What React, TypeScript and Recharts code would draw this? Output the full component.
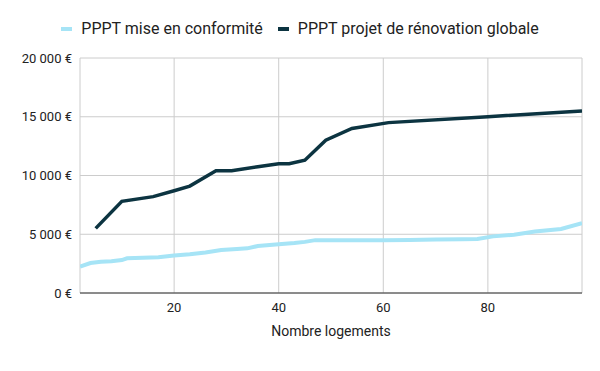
import React from 'react';
import { LineChart, Line, XAxis, YAxis, CartesianGrid, Legend } from 'recharts';

const conformiteX = [2, 4, 6, 8, 10, 11, 14, 17, 20, 23, 26, 29, 32, 34, 36, 40, 43, 45, 47, 50, 55, 60, 65, 70, 75, 78, 81, 85, 89, 94, 98];
const conformiteY = [2250, 2550, 2650, 2700, 2800, 2950, 3000, 3050, 3200, 3300, 3450, 3650, 3750, 3800, 4000, 4150, 4250, 4350, 4500, 4500, 4480, 4480, 4520, 4550, 4580, 4600, 4820, 4960, 5240, 5450, 5950];

const renovationX = [5, 10, 16, 20, 23, 28, 31, 36, 40, 42, 45, 49, 54, 61, 80, 98];
const renovationY = [5500, 7800, 8200, 8700, 9100, 10400, 10400, 10750, 11000, 11000, 11300, 13000, 14000, 14500, 15000, 15500];

const yTicks = [0, 5000, 10000, 15000, 20000];
const xTicks = [20, 40, 60, 80];

const seriesNames = ['PPPT mise en conformité', 'PPPT projet de rénovation globale'];
const seriesColors = ['#a6e4f6', '#0c3441'];

const conformiteData = conformiteX.map((x, i) => ({ x, y: conformiteY[i] }));
const renovationData = renovationX.map((x, i) => ({ x, y: renovationY[i] }));

const formatEuro = (v: number) => `${v.toLocaleString('fr-FR').replace(/[\u202f\u00a0]/g, ' ')} €`;

const LegendContent = () => (
  <div style={{ display: 'flex', justifyContent: 'center', fontSize: 16, color: '#222', lineHeight: '20px' }}>
    {seriesNames.map((name, i) => (
      <div key={name} style={{ display: 'flex', alignItems: 'center', marginRight: i === 0 ? 15 : 0 }}>
        <span style={{ width: 11, height: 4, background: seriesColors[i], marginRight: 9, display: 'inline-block' }} />
        <span>{name}</span>
      </div>
    ))}
  </div>
);

const App: React.FC = () => {
  return (
    <div style={{ position: 'absolute', top: 0, left: 0, width: 600, height: 371, background: '#fff', fontFamily: 'Roboto, sans-serif' }}>
      <LineChart width={600} height={371} margin={{ top: 58, right: 18, left: 8, bottom: 28 }}>
        <CartesianGrid stroke="#cccccc" strokeWidth={1} />
        <XAxis
          type="number"
          dataKey="x"
          domain={[2, 98]}
          ticks={xTicks}
          allowDataOverflow
          tickLine={false}
          axisLine={{ stroke: '#333', strokeWidth: 1 }}
          tick={{ fontSize: 13, fill: '#222', dy: 2 }}
          height={50}
          label={{ value: 'Nombre logements', position: 'insideBottom', offset: 7, fontSize: 14, fill: '#222' }}
        />
        <YAxis
          type="number"
          dataKey="y"
          domain={[0, 20000]}
          ticks={yTicks}
          width={72}
          tickLine={false}
          axisLine={false}
          tick={{ fontSize: 13, fill: '#222' }}
          tickFormatter={formatEuro}
        />
        <Legend verticalAlign="middle" align="center" layout="horizontal" wrapperStyle={{ top: 19, left: 0, width: 600 }} content={<LegendContent />} />
        <Line data={conformiteData} dataKey="y" name={seriesNames[0]} stroke={seriesColors[0]} strokeWidth={4} dot={false} isAnimationActive={false} />
        <Line data={renovationData} dataKey="y" name={seriesNames[1]} stroke={seriesColors[1]} strokeWidth={3.5} dot={false} isAnimationActive={false} />
      </LineChart>
    </div>
  );
};

export default App;
